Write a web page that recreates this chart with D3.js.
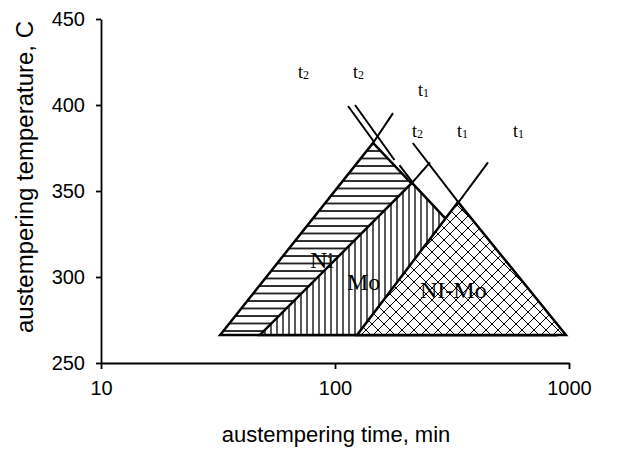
<!DOCTYPE html>
<html>
<head>
<meta charset="utf-8">
<script src="https://cdn.jsdelivr.net/npm/d3@7"></script>
<style>
  html, body { margin: 0; padding: 0; background: #fff; }
  svg { display: block; }
  .tick text { font-family: "Liberation Sans", Arial, sans-serif; font-size: 20px; fill: #000; }
</style>
</head>
<body>
<svg id="chart" width="623" height="451"></svg>
<script>
// Axis ticks
const timeTicks = [10, 100, 1000];
const tempTicks = [250, 300, 350, 400, 450];

// Process windows: [time, temperature] vertices of each region
const niRegion = [[32.3, 266.3], [145.4, 377.9], [870, 266.3]];
const moRegion = [[47.8, 266.3], [213.3, 354.7], [870, 266.3]];
const niMoRegion = [[124.2, 266.3], [335.5, 343.6], [970, 266.3]];

// Boundary lines t1 and t2, each as a pair of [time, temperature] end points
const t1Lines = [
  [[145.4, 377.9], [177, 395.3]],
  [[213.3, 354.7], [254.7, 366.6]],
  [[325.7, 340.7], [450.8, 366.6]]
];
const t2Lines = [
  [[113.7, 399.4], [147, 378.5]],
  [[121.8, 400.0], [179.5, 368.0]],
  [[188.5, 365.1], [215.4, 354.7]],
  [[215, 377.9], [352, 340.1]]
];

// Line labels: [time, temperature, subscript]
const tLabels = [
  [69.5, 415.7, "2"], [119.4, 415.7, "2"], [226.3, 405.2, "1"],
  [213.3, 381.4, "2"], [332.3, 381.4, "1"], [576.5, 381.4, "1"]
];
// Region names: [time, temperature, text]
const regionLabels = [
  [78.2, 305.2, "Ni"], [112.5, 292.4, "Mo"], [230.8, 287.8, "NI-Mo"]
];

const svg = d3.select("#chart");
const x = d3.scaleLog().domain([10, 1000]).range([101, 569]);
const y = d3.scaleLinear().domain([250, 450]).range([363, 19]);

// Fill patterns
const defs = svg.append("defs");
const hp = defs.append("pattern").attr("id", "hatchH")
  .attr("patternUnits", "userSpaceOnUse").attr("width", 10).attr("height", 7.5);
hp.append("rect").attr("width", 10).attr("height", 7.5).attr("fill", "#fff");
hp.append("line").attr("x1", 0).attr("x2", 10).attr("y1", 1).attr("y2", 1)
  .attr("stroke", "#000").attr("stroke-width", 1.6);

const vp = defs.append("pattern").attr("id", "hatchV")
  .attr("patternUnits", "userSpaceOnUse").attr("width", 6).attr("height", 10);
vp.append("rect").attr("width", 6).attr("height", 10).attr("fill", "#fff");
vp.append("line").attr("x1", 1).attr("x2", 1).attr("y1", 0).attr("y2", 10)
  .attr("stroke", "#000").attr("stroke-width", 1.3);

const cp = defs.append("pattern").attr("id", "hatchX")
  .attr("patternUnits", "userSpaceOnUse").attr("width", 12).attr("height", 12);
cp.append("rect").attr("width", 12).attr("height", 12).attr("fill", "#fff");
cp.append("path").attr("d", "M0,0L12,12M12,0L0,12")
  .attr("stroke", "#000").attr("stroke-width", 1).attr("fill", "none");

// Axes
const yAxis = d3.axisLeft(y).tickValues(tempTicks).tickSize(5).tickSizeOuter(0)
  .tickPadding(11).tickFormat(d3.format("d"));
const xAxis = d3.axisBottom(x).tickValues(timeTicks).tickSize(6).tickSizeOuter(0)
  .tickPadding(12).tickFormat(d3.format("d"));

const gy = svg.append("g").attr("transform", "translate(101,0)").call(yAxis);
const gx = svg.append("g").attr("transform", "translate(0,363)").call(xAxis);
[gy, gx].forEach(g => {
  g.select(".domain").attr("stroke", "#000").attr("stroke-width", 1.8);
  g.selectAll(".tick line").attr("stroke", "#000").attr("stroke-width", 1.8);
});

// Regions
const poly = pts => "M" + pts.map(p => [x(p[0]), y(p[1])].join(",")).join("L") + "Z";
[[niRegion, "hatchH"], [moRegion, "hatchV"], [niMoRegion, "hatchX"]].forEach(([pts, pat]) => {
  svg.append("path").attr("d", poly(pts))
    .attr("fill", `url(#${pat})`).attr("stroke", "#000")
    .attr("stroke-width", 2.5).attr("stroke-linejoin", "miter");
});

// Boundary lines
const seg = d3.line().x(p => x(p[0])).y(p => y(p[1]));
svg.append("g").selectAll("path").data(t1Lines.concat(t2Lines)).join("path")
  .attr("d", seg).attr("fill", "none").attr("stroke", "#000").attr("stroke-width", 2);

// t labels
const tl = svg.append("g").attr("font-family", "'Liberation Serif', 'Times New Roman', serif");
tLabels.forEach(([t, T, s]) => {
  const txt = tl.append("text").attr("x", x(t)).attr("y", y(T)).attr("font-size", 18);
  txt.append("tspan").text("t");
  txt.append("tspan").attr("font-size", 12).attr("dy", 1).text(s);
});

// Region names
svg.append("g").selectAll("text").data(regionLabels).join("text")
  .attr("x", d => x(d[0])).attr("y", d => y(d[1]))
  .attr("font-family", "'Liberation Serif', 'Times New Roman', serif")
  .attr("font-size", 24).text(d => d[2]);

// Axis titles
svg.append("text").attr("x", 336).attr("y", 442).attr("text-anchor", "middle")
  .attr("font-family", "'Liberation Sans', Arial, sans-serif").attr("font-size", 22)
  .text("austempering time, min");
svg.append("text").attr("transform", "translate(33,177) rotate(-90)").attr("text-anchor", "middle")
  .attr("font-family", "'Liberation Sans', Arial, sans-serif").attr("font-size", 23)
  .attr("textLength", 312).attr("lengthAdjust", "spacingAndGlyphs")
  .text("austempering temperature, C");
</script>
</body>
</html>
